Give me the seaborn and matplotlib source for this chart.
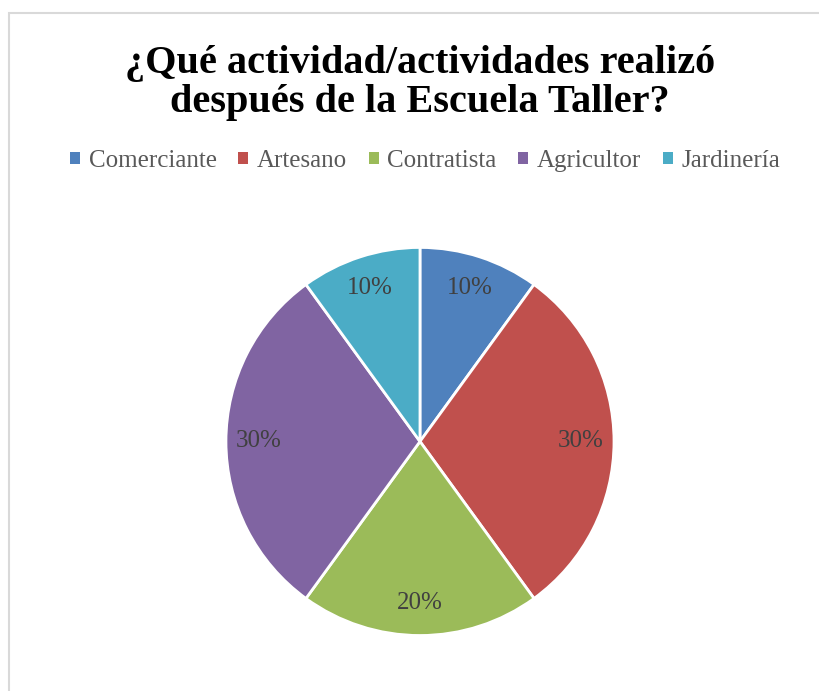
import matplotlib
matplotlib.use("Agg")
import matplotlib.pyplot as plt
from matplotlib.patches import Patch, Rectangle
import seaborn as sns

actividades = ["Comerciante", "Artesano", "Contratista", "Agricultor", "Jardinería"]
porcentajes = [10, 30, 20, 30, 10]
colores = ["#4F81BD", "#C0504D", "#9BBB59", "#8064A2", "#4BACC6"]
titulo = "¿Qué actividad/actividades realizó\ndespués de la Escuela Taller?"

sns.set_theme(style="white")
plt.rcParams["font.family"] = ["Liberation Serif", "DejaVu Serif"]
palette = sns.color_palette(colores)

fig = plt.figure(figsize=(8.19, 6.91), dpi=100)

# marco gris del grafico (solo se ven borde izquierdo y superior)
fig.patches.append(Rectangle((9 / 819, -0.1), 1.2, 1 - 13 / 691 + 0.1,
                             transform=fig.transFigure, fill=False,
                             edgecolor="#D9D9D9", linewidth=1.5))

ax = fig.add_axes([0.2735, 0.0775, 0.4786, 0.5672])
wedges, texts, autotexts = ax.pie(
    porcentajes,
    colors=palette,
    startangle=90,
    counterclock=False,
    autopct="%1.0f%%",
    pctdistance=0.83,
    wedgeprops=dict(edgecolor="white", linewidth=2),
    textprops=dict(color="#404040", fontsize=18),
)
ax.set_xlim(-1.01, 1.01)
ax.set_ylim(-1.01, 1.01)
ax.set_aspect("equal")
ax.axis("off")

fig.text(420 / 819, 1 - 83 / 691, titulo, ha="center", va="center",
         fontsize=29, fontweight="bold", color="black", linespacing=1.1)

handles = [Patch(facecolor=c, edgecolor="none") for c in palette]
fig.legend(handles, actividades, loc="center", ncol=5,
           bbox_to_anchor=(425 / 819, 1 - 161 / 691), frameon=False,
           fontsize=18, labelcolor="#595959", handlelength=0.4,
           handleheight=0.4, handletextpad=0.35, columnspacing=0.86)

fig.savefig("out.png", dpi=100)
